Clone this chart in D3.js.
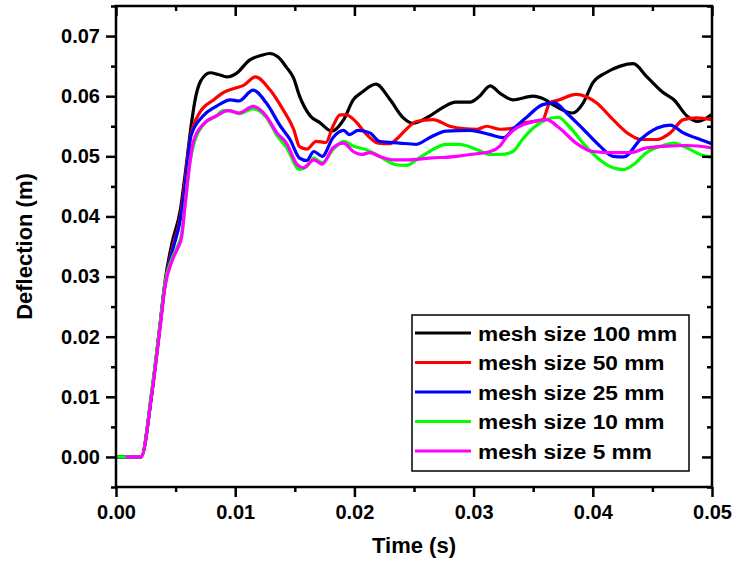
<!DOCTYPE html>
<html>
<head>
<meta charset="utf-8">
<script src="https://cdn.jsdelivr.net/npm/d3@7"></script>
<style>
  body { margin: 0; background: #fff; }
  svg { display: block; font-family: Arial, "Liberation Sans", sans-serif; }
</style>
</head>
<body>
<svg width="732" height="565"></svg>
<script>
var seriesNames = ["mesh size 100 mm", "mesh size 50 mm", "mesh size 25 mm", "mesh size 10 mm", "mesh size 5 mm"];
var seriesColors = ["#000000", "#ff0000", "#0000ff", "#00ff00", "#ff00ff"];

var t100 = [0, 0.0021, 0.0030, 0.0037, 0.0041, 0.0047, 0.0054, 0.0058, 0.0063, 0.0066, 0.0071, 0.0079, 0.0086, 0.0093, 0.0101, 0.0112, 0.0122, 0.0129, 0.0136, 0.0143, 0.0149, 0.0154, 0.0163, 0.0171, 0.0181, 0.0191, 0.0199, 0.0206, 0.0218, 0.0230, 0.0241, 0.0249, 0.0263, 0.0274, 0.0285, 0.0297, 0.0305, 0.0314, 0.0322, 0.0333, 0.0350, 0.0357, 0.0369, 0.0383, 0.0392, 0.0400, 0.0411, 0.0423, 0.0434, 0.0445, 0.0459, 0.0468, 0.0479, 0.0488, 0.0500];
var v100 = [0, 0, 0.0106, 0.022, 0.029, 0.0356, 0.0411, 0.047, 0.055, 0.059, 0.0625, 0.0639, 0.0636, 0.0632, 0.0638, 0.066, 0.0668, 0.0671, 0.0665, 0.0648, 0.063, 0.060, 0.0567, 0.0556, 0.0542, 0.0561, 0.0594, 0.0606, 0.0620, 0.0594, 0.0564, 0.0555, 0.0567, 0.0581, 0.0590, 0.0590, 0.0600, 0.0617, 0.0605, 0.0594, 0.0600, 0.0597, 0.0583, 0.0572, 0.0589, 0.0622, 0.0639, 0.0650, 0.0654, 0.0633, 0.0606, 0.0594, 0.0567, 0.0558, 0.0570];

var t50 = [0, 0.0021, 0.0030, 0.0037, 0.0041, 0.0047, 0.0054, 0.0058, 0.0062, 0.0070, 0.0082, 0.0090, 0.0101, 0.0107, 0.0117, 0.0129, 0.0140, 0.0149, 0.0154, 0.0160, 0.0168, 0.0176, 0.0182, 0.0188, 0.0193, 0.0202, 0.0209, 0.0220, 0.0230, 0.0235, 0.0242, 0.0252, 0.0266, 0.0280, 0.0291, 0.0303, 0.0311, 0.0322, 0.0333, 0.0344, 0.0358, 0.0364, 0.0372, 0.0386, 0.0403, 0.0417, 0.0431, 0.0440, 0.0454, 0.0465, 0.0476, 0.0487, 0.0500];
var v50 = [0, 0, 0.0106, 0.022, 0.0285, 0.0345, 0.040, 0.046, 0.0528, 0.0572, 0.0594, 0.0606, 0.0614, 0.0618, 0.0632, 0.0611, 0.0578, 0.0545, 0.0516, 0.0512, 0.0525, 0.0523, 0.0550, 0.0569, 0.0569, 0.0556, 0.0539, 0.0522, 0.0521, 0.0528, 0.0542, 0.0558, 0.0561, 0.0550, 0.0546, 0.0545, 0.0550, 0.0545, 0.0547, 0.0556, 0.0561, 0.0589, 0.0594, 0.0603, 0.0589, 0.0561, 0.0536, 0.0528, 0.0528, 0.0539, 0.0561, 0.0564, 0.0561];

var t25 = [0, 0.0021, 0.0030, 0.0037, 0.0041, 0.0047, 0.0054, 0.0058, 0.0063, 0.0073, 0.0084, 0.0096, 0.0103, 0.0115, 0.0126, 0.0138, 0.0146, 0.0154, 0.0160, 0.0166, 0.0173, 0.0182, 0.0191, 0.0196, 0.0203, 0.0213, 0.0221, 0.0238, 0.0252, 0.0263, 0.0277, 0.0297, 0.0314, 0.0325, 0.0333, 0.0344, 0.0358, 0.0368, 0.0378, 0.0392, 0.0406, 0.0417, 0.0426, 0.0440, 0.0454, 0.0465, 0.0476, 0.0490, 0.0500];
var v25 = [0, 0, 0.0106, 0.022, 0.0285, 0.034, 0.0395, 0.045, 0.0535, 0.0567, 0.0583, 0.0594, 0.0592, 0.0610, 0.0589, 0.0550, 0.0528, 0.0497, 0.0493, 0.0508, 0.0500, 0.0531, 0.0543, 0.0536, 0.0543, 0.0539, 0.0525, 0.0522, 0.0520, 0.0531, 0.0542, 0.0543, 0.0536, 0.0531, 0.0545, 0.0564, 0.0586, 0.0589, 0.0572, 0.0545, 0.0517, 0.0500, 0.0499, 0.0528, 0.0547, 0.0552, 0.0539, 0.0528, 0.0521];

var t10 = [0, 0.0021, 0.0030, 0.0037, 0.0041, 0.0047, 0.0052, 0.0055, 0.0058, 0.0062, 0.0066, 0.0073, 0.0084, 0.0090, 0.0096, 0.0103, 0.0115, 0.0126, 0.0135, 0.0143, 0.0154, 0.0160, 0.0166, 0.0173, 0.0182, 0.0191, 0.0199, 0.0210, 0.0221, 0.0235, 0.0244, 0.0252, 0.0263, 0.0277, 0.0288, 0.0303, 0.0314, 0.0322, 0.0333, 0.0341, 0.0350, 0.0361, 0.0371, 0.0380, 0.0394, 0.0406, 0.0417, 0.0426, 0.0434, 0.0445, 0.0459, 0.0468, 0.0479, 0.0490, 0.0500];
var v10 = [0, 0, 0.0110, 0.0222, 0.0288, 0.0330, 0.0352, 0.0370, 0.0420, 0.0490, 0.0525, 0.0552, 0.0567, 0.0576, 0.0576, 0.0571, 0.0579, 0.0565, 0.0535, 0.0515, 0.0478, 0.0483, 0.0497, 0.0489, 0.0511, 0.0525, 0.0517, 0.0511, 0.0500, 0.0486, 0.0485, 0.0494, 0.0508, 0.0520, 0.0520, 0.0511, 0.0503, 0.0503, 0.0508, 0.0528, 0.0547, 0.0561, 0.0565, 0.0550, 0.0517, 0.0494, 0.0481, 0.0478, 0.0486, 0.0506, 0.0518, 0.0522, 0.0514, 0.0503, 0.0498];

var t5 = [0.0008, 0.0021, 0.0030, 0.0037, 0.0041, 0.0047, 0.0052, 0.0055, 0.0058, 0.0062, 0.0065, 0.0073, 0.0084, 0.0094, 0.0103, 0.0115, 0.0126, 0.0135, 0.0143, 0.0152, 0.0157, 0.0166, 0.0173, 0.0182, 0.0191, 0.0199, 0.0206, 0.0213, 0.0221, 0.0233, 0.0244, 0.0263, 0.0286, 0.0297, 0.0314, 0.0322, 0.0328, 0.0336, 0.0347, 0.0361, 0.0372, 0.0386, 0.0400, 0.0417, 0.0431, 0.0445, 0.0462, 0.0479, 0.0500];
var v5 = [0, 0, 0.0104, 0.0215, 0.0282, 0.0326, 0.0348, 0.0365, 0.0420, 0.0490, 0.0525, 0.0553, 0.0567, 0.0576, 0.0572, 0.0583, 0.0567, 0.0539, 0.0522, 0.0486, 0.0481, 0.0494, 0.0487, 0.0514, 0.0522, 0.0508, 0.0503, 0.0506, 0.0500, 0.0494, 0.0494, 0.0497, 0.0500, 0.0503, 0.0508, 0.0517, 0.0533, 0.0547, 0.0556, 0.0561, 0.0547, 0.0522, 0.0508, 0.0506, 0.0506, 0.0514, 0.0517, 0.0518, 0.0514];

var xMajor = [0, 0.01, 0.02, 0.03, 0.04, 0.05];
var xMinor = [0.005, 0.015, 0.025, 0.035, 0.045];
var yMajor = [0, 0.01, 0.02, 0.03, 0.04, 0.05, 0.06, 0.07];
var yMinor = [-0.005, 0.005, 0.015, 0.025, 0.035, 0.045, 0.055, 0.065, 0.075];

var times = [t100, t50, t25, t10, t5];
var values = [v100, v50, v25, v10, v5];

var svg = d3.select("svg"),
    margin = {top: 6, right: 20, bottom: 78, left: 116},
    width = 732 - margin.left - margin.right,
    height = 565 - margin.top - margin.bottom,
    g = svg.append("g").attr("transform", "translate(" + margin.left + "," + margin.top + ")");

var x = d3.scaleLinear().domain([0, 0.05]).range([0, width]);
var y = d3.scaleLinear().domain([-0.005, 0.075]).range([height, 0]);

var line = d3.line()
    .curve(d3.curveMonotoneX)
    .x(function(d) { return x(d[0]); })
    .y(function(d) { return y(d[1]); });

var plot = g.append("g");
times.forEach(function(ts, i) {
  var pts = ts.map(function(t, j) { return [t, values[i][j]]; });
  plot.append("path")
      .datum(pts)
      .attr("fill", "none")
      .attr("stroke", seriesColors[i])
      .attr("stroke-width", 3.2)
      .attr("stroke-linejoin", "round")
      .attr("d", line);
});

function styleAxis(sel) {
  sel.select(".domain").remove();
  sel.selectAll(".tick line").attr("stroke", "#000").attr("stroke-width", 2.5);
  sel.selectAll(".tick text")
      .attr("fill", "#000")
      .style("font-size", "20px")
      .style("font-weight", "bold");
}

var fmt = d3.format(".2f");

// bottom & left: outward ticks with labels
g.append("g").attr("transform", "translate(0," + height + ")")
    .call(d3.axisBottom(x).tickValues(xMajor).tickSize(10).tickPadding(8).tickFormat(fmt))
    .call(styleAxis);
g.append("g").attr("transform", "translate(0," + height + ")")
    .call(d3.axisBottom(x).tickValues(xMinor).tickSize(5).tickFormat(""))
    .call(styleAxis);
g.append("g")
    .call(d3.axisLeft(y).tickValues(yMajor).tickSize(10).tickPadding(6).tickFormat(fmt))
    .call(styleAxis);
g.append("g")
    .call(d3.axisLeft(y).tickValues(yMinor).tickSize(5).tickFormat(""))
    .call(styleAxis);

// top & right: inward ticks, no labels
g.append("g")
    .call(d3.axisTop(x).tickValues(xMajor).tickSize(-10).tickFormat(""))
    .call(styleAxis);
g.append("g")
    .call(d3.axisTop(x).tickValues(xMinor).tickSize(-5).tickFormat(""))
    .call(styleAxis);
g.append("g").attr("transform", "translate(" + width + ",0)")
    .call(d3.axisRight(y).tickValues(yMajor).tickSize(-10).tickFormat(""))
    .call(styleAxis);
g.append("g").attr("transform", "translate(" + width + ",0)")
    .call(d3.axisRight(y).tickValues(yMinor).tickSize(-5).tickFormat(""))
    .call(styleAxis);

g.append("rect")
    .attr("width", width)
    .attr("height", height)
    .attr("fill", "none")
    .attr("stroke", "#000")
    .attr("stroke-width", 2.5);

svg.append("text")
    .attr("x", margin.left + width / 2)
    .attr("y", 553)
    .attr("text-anchor", "middle")
    .style("font-size", "22px")
    .style("font-weight", "bold")
    .text("Time (s)");

svg.append("text")
    .attr("transform", "translate(32," + (margin.top + y(0.035)) + ") rotate(-90)")
    .attr("text-anchor", "middle")
    .style("font-size", "22px")
    .style("font-weight", "bold")
    .text("Deflection (m)");

// legend
var legend = g.append("g").attr("transform", "translate(" + (412 - margin.left) + "," + (315 - margin.top) + ")");
legend.append("rect")
    .attr("width", 277)
    .attr("height", 156)
    .attr("fill", "#fff")
    .attr("stroke", "#000")
    .attr("stroke-width", 1.5);
seriesNames.forEach(function(name, i) {
  var row = legend.append("g").attr("transform", "translate(0," + (18 + i * 29.5) + ")");
  row.append("line")
      .attr("x1", 3).attr("x2", 59)
      .attr("stroke", seriesColors[i])
      .attr("stroke-width", 3);
  row.append("text")
      .attr("transform", "translate(66,0) scale(1.08,1)")
      .attr("dy", "0.36em")
      .style("font-size", "21px")
      .style("font-weight", "bold")
      .text(name);
});
</script>
</body>
</html>
